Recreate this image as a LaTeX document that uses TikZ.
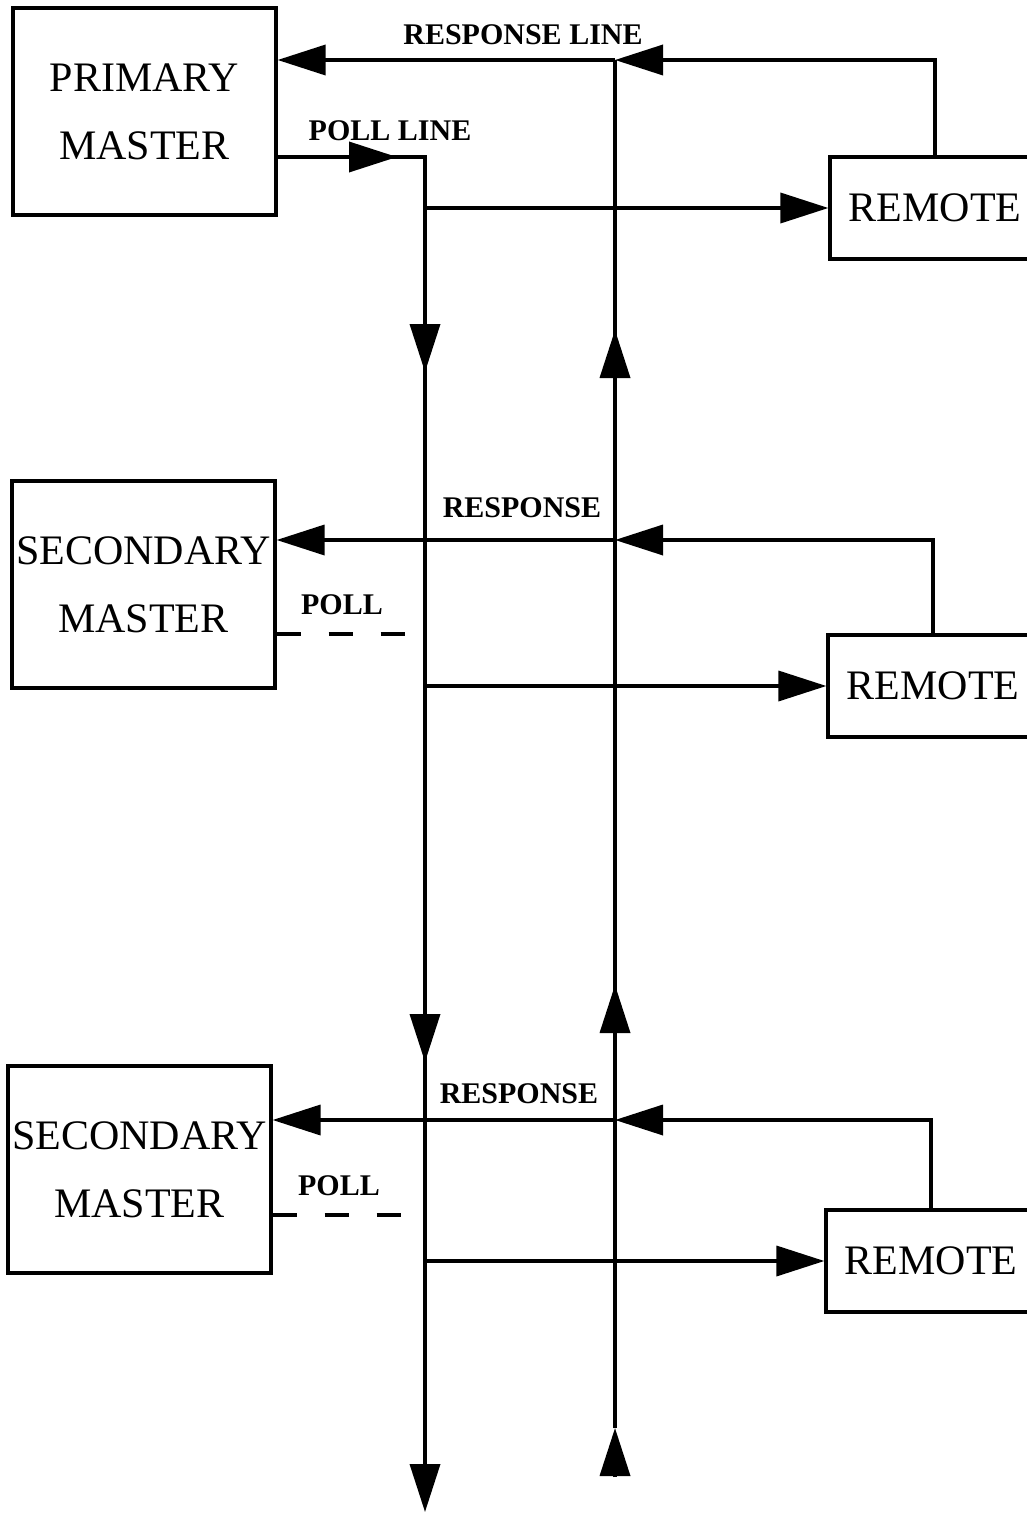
\documentclass[tikz,border=0pt]{standalone}
\usepackage{fontspec}
\setmainfont{Liberation Serif}
\usetikzlibrary{arrows.meta}

\tikzset{
  bus/.style={line width=1.8pt},
  tip/.style={bus, -{Triangle[length=24pt,width=15pt]}},
  box/.style={draw, line width=1.6pt, inner sep=0pt, align=center,
    font=\fontsize{21}{34}\selectfont},
  master/.style={box, minimum width=131.5pt, minimum height=103.5pt},
  remote/.style={box, minimum width=105pt, minimum height=51pt},
  linetag/.style={font=\bfseries\fontsize{15}{15}\selectfont, inner sep=0pt},
  polldash/.style={bus, dash pattern=on 12pt off 14pt}
}

\begin{document}
\begin{tikzpicture}[x=0.5pt,y=-0.5pt]
\useasboundingbox (0,0) rectangle (1027,1514);
% stations
\node[master] (pm) at (144.5,111.5) {PRIMARY\\MASTER};
\node[master] (sm1) at (143.5,584.5) {SECONDARY\\MASTER};
\node[master] (sm2) at (139.5,1169.5) {SECONDARY\\MASTER};
\node[remote] (rm1) at (935,208) {REMOTE};
\node[remote] (rm2) at (933,686) {REMOTE};
\node[remote] (rm3) at (931,1261) {REMOTE};
% poll bus
\coordinate (pa) at (397,157);
\coordinate (pc) at (425,157);
\coordinate (l1) at (425,372);
\coordinate (l2) at (425,1062);
\coordinate (l3) at (425,1512);
\coordinate (le) at (425,1460);
\draw[bus] (pm.east |- pc) -- (pc) -- (le);
\draw[tip] (pm.east |- pc) -- (pa);
\draw[tip] (pc) -- (l1);
\draw[tip] (l1) -- (l2);
\draw[tip] (l2) -- (l3);
% response bus
\coordinate (r0) at (615,1477);
\coordinate (r1) at (615,1428);
\coordinate (r2) at (615,985);
\coordinate (r3) at (615,330);
\coordinate (rt) at (615,60);
\coordinate (rs1) at (615,540);
\coordinate (rs2) at (615,1120);
\draw[bus] (r1) -- (rt);
\draw[tip] (r0) -- (r1);
\draw[tip] (r1) -- (r2);
\draw[tip] (r2) -- (r3);
% primary
\draw[tip] (rm1.north) |- (rt);
\draw[tip] (rt) -- (pm.east |- rt);
\draw[tip] (l1 |- rm1.west) -- (rm1.west);
\node[linetag] (rl) at (523,35) {RESPONSE LINE};
\node[linetag] (pl) at (390,131) {POLL LINE};
% secondary 1
\coordinate (p1) at (410,634);
\draw[tip] (rm2.north) |- (rs1);
\draw[tip] (rs1) -- (sm1.east |- rs1);
\draw[tip] (l1 |- rm2.west) -- (rm2.west);
\draw[polldash] (sm1.east |- p1) -- (p1);
\node[linetag] (r1t) at (522,508) {RESPONSE};
\node[linetag] (p1t) at (342,605) {POLL};
% secondary 2
\coordinate (p2) at (405,1215);
\draw[tip] (rm3.north) |- (rs2);
\draw[tip] (rs2) -- (sm2.east |- rs2);
\draw[tip] (l2 |- rm3.west) -- (rm3.west);
\draw[polldash] (sm2.east |- p2) -- (p2);
\node[linetag] (r2t) at (519,1094) {RESPONSE};
\node[linetag] (p2t) at (339,1186) {POLL};
\end{tikzpicture}
\end{document}
